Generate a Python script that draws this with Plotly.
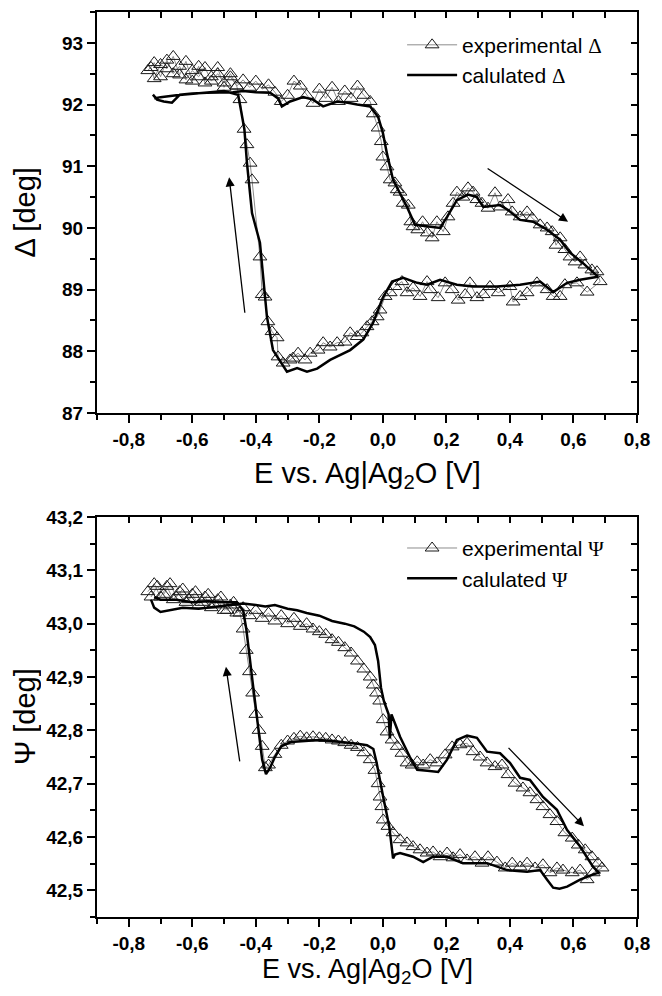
import plotly.graph_objects as go

# ---------------- data ----------------
# Delta, experimental (loop order)
exp_delta_x = [
    -0.74, -0.72, -0.70, -0.68, -0.66, -0.64, -0.62, -0.60, -0.58, -0.56,
    -0.54, -0.52, -0.50, -0.48, -0.46, -0.44, -0.42, -0.40, -0.38, -0.36,
    -0.34, -0.32, -0.30, -0.28, -0.26, -0.24, -0.22, -0.20, -0.18, -0.16,
    -0.14, -0.12, -0.10, -0.08, -0.06, -0.04, -0.03, -0.015, -0.005,
    0.0, 0.013, 0.023, 0.038, 0.045, 0.054, 0.064, 0.08, 0.088, 0.095,
    0.11, 0.125, 0.14, 0.155, 0.17, 0.19, 0.205, 0.221, 0.233, 0.252,
    0.268, 0.284, 0.296, 0.312, 0.331, 0.353, 0.369, 0.394, 0.407, 0.432,
    0.454, 0.47, 0.495, 0.517, 0.533, 0.545, 0.558, 0.573, 0.589, 0.605,
    0.621, 0.636, 0.658, 0.674, 0.684,
    0.643, 0.611, 0.573, 0.558, 0.536, 0.517, 0.485, 0.454, 0.432, 0.41,
    0.4, 0.363, 0.337, 0.316, 0.296, 0.274, 0.259, 0.237, 0.218, 0.196,
    0.174, 0.149, 0.139, 0.117, 0.095, 0.076, 0.06, 0.038, 0.023, 0.007,
    -0.009, -0.018, -0.034, -0.05, -0.066, -0.081, -0.103, -0.119, -0.144, -0.166,
    -0.188, -0.204, -0.229, -0.245, -0.267, -0.283, -0.292, -0.314, -0.33, -0.333,
    -0.349, -0.362, -0.371, -0.38, -0.387, -0.412, -0.418, -0.428, -0.437, -0.45,
    -0.46,
    -0.48, -0.50, -0.52, -0.54, -0.56, -0.58, -0.60, -0.62, -0.64, -0.66,
    -0.68, -0.70, -0.72, -0.73,
]
exp_delta_y = [
    92.55, 92.68, 92.45, 92.72, 92.5, 92.62, 92.4, 92.55, 92.45, 92.6,
    92.38, 92.5, 92.35, 92.45, 92.3, 92.4, 92.28, 92.38, 92.25, 92.32,
    92.2, 92.05, 92.15, 92.38, 92.3, 92.15, 92.02, 92.25, 92.1, 92.28,
    92.05, 92.22, 92.1, 92.3, 92.15, 92.05, 91.85, 91.62, 91.4,
    91.15, 90.99, 90.78, 90.73, 90.62, 90.58, 90.4, 90.37, 90.1, 90.02,
    89.97, 90.1, 89.92, 89.84, 90.1, 89.94, 90.18, 90.4, 90.58, 90.5,
    90.65, 90.58, 90.46, 90.4, 90.32, 90.57, 90.34, 90.46, 90.26, 90.18,
    90.26, 90.16, 90.05, 90.0, 89.94, 89.72, 89.84, 89.65, 89.53, 89.45,
    89.53, 89.4, 89.32, 89.29, 89.13,
    88.96, 89.11, 89.08, 88.89, 88.89, 89.0, 89.11, 88.95, 88.89, 88.8,
    89.05, 88.95, 89.05, 88.92, 88.87, 89.11, 88.92, 88.83, 89.0, 89.11,
    88.87, 89.0, 89.13, 88.89, 89.03, 88.95, 89.13, 89.05, 88.95, 88.89,
    88.67, 88.56, 88.48, 88.4, 88.3, 88.24, 88.3, 88.15, 88.14, 88.07,
    88.14, 88.02, 87.97, 87.86, 87.97, 87.89, 87.86, 87.81, 87.91, 88.22,
    88.32, 88.48, 88.88, 88.92, 89.53, 90.78, 91.05, 91.35, 91.6, 92.08,
    92.3,
    92.5, 92.28, 92.6, 92.45, 92.35, 92.62, 92.38, 92.7, 92.48, 92.78,
    92.58, 92.65, 92.42, 92.6,
]

# Delta, calculated (loop order)
calc_delta_x = [
    -0.724, -0.711, -0.69, -0.664, -0.639, -0.6, -0.554, -0.5, -0.472, -0.44,
    -0.4, -0.355, -0.33, -0.318, -0.292, -0.251, -0.22, -0.188, -0.144, -0.11,
    -0.081, -0.04, -0.015, 0.0, 0.013, 0.032, 0.054, 0.076, 0.101, 0.139,
    0.18, 0.202, 0.233, 0.268, 0.296, 0.316, 0.369, 0.394, 0.432, 0.473,
    0.517, 0.558, 0.589, 0.63, 0.677,
    0.621, 0.58, 0.536, 0.495, 0.432, 0.359, 0.284, 0.233, 0.18, 0.139,
    0.108, 0.064, 0.029, 0.0, -0.031, -0.062, -0.103, -0.166, -0.207, -0.239,
    -0.27, -0.302, -0.346, -0.365, -0.387, -0.412, -0.428, -0.436, -0.45, -0.456,
    -0.5, -0.55, -0.6, -0.65, -0.7, -0.72,
]
calc_delta_y = [
    92.16, 92.08, 92.05, 92.03, 92.16, 92.18, 92.19, 92.2, 92.2, 92.22,
    92.2, 92.19, 92.1, 91.97, 92.05, 92.12, 92.08, 91.97, 92.05, 92.03,
    92.0, 91.97, 91.8, 91.54, 91.2, 90.78, 90.57, 90.34, 90.05, 90.02,
    90.0, 90.18, 90.45, 90.54, 90.5, 90.34, 90.37, 90.29, 90.13, 90.1,
    89.97, 89.81, 89.6, 89.43, 89.21,
    89.16, 89.11, 88.96, 89.13, 89.08, 89.05, 89.05, 89.08, 89.16, 89.08,
    89.11, 89.19, 89.13, 88.87, 88.46, 88.19, 88.02, 87.86, 87.72, 87.67,
    87.73, 87.67, 88.02, 88.56, 89.76, 90.24, 91.06, 91.6, 92.0, 92.16,
    92.22, 92.2, 92.17, 92.15, 92.12, 92.1,
]

# Psi, experimental (loop order)
exp_psi_x = [
    -0.74, -0.72, -0.70, -0.68, -0.66, -0.64, -0.62, -0.60, -0.58, -0.56,
    -0.54, -0.52, -0.50, -0.48, -0.46, -0.44, -0.42, -0.40, -0.38, -0.36,
    -0.34, -0.32, -0.30, -0.28, -0.26, -0.24, -0.22, -0.20, -0.18, -0.16,
    -0.14, -0.12, -0.10, -0.08, -0.06, -0.04, -0.03, -0.02, -0.01,
    0.001, 0.013, 0.029, 0.045, 0.06, 0.076, 0.092, 0.108, 0.127, 0.149,
    0.17, 0.196, 0.218, 0.243, 0.265, 0.284, 0.306, 0.328, 0.353, 0.375,
    0.394, 0.416, 0.441, 0.463, 0.485, 0.504, 0.526, 0.548, 0.573, 0.596,
    0.615, 0.637, 0.658, 0.677, 0.69,
    0.662, 0.643, 0.621, 0.596, 0.567, 0.548, 0.526, 0.504, 0.479, 0.454,
    0.432, 0.407, 0.385, 0.359, 0.331, 0.312, 0.29, 0.265, 0.243, 0.221,
    0.202, 0.18, 0.158, 0.139, 0.117, 0.095, 0.076, 0.054, 0.032, 0.016,
    0.001, -0.003, -0.009,
    -0.015, -0.025, -0.04, -0.06, -0.08, -0.10, -0.12, -0.14, -0.16, -0.18,
    -0.20, -0.22, -0.24, -0.26, -0.28, -0.30, -0.32, -0.34, -0.36, -0.37,
    -0.38, -0.39, -0.40, -0.41, -0.42, -0.43, -0.44, -0.45,
    -0.47, -0.49, -0.51, -0.53, -0.55, -0.57, -0.59, -0.61, -0.63, -0.65,
    -0.67, -0.69, -0.71, -0.73,
]
exp_psi_y = [
    43.06, 43.075, 43.05, 43.07, 43.045, 43.06, 43.04, 43.055, 43.035, 43.05,
    43.03, 43.045, 43.025, 43.035, 43.02, 43.03, 43.015, 43.025, 43.01, 43.02,
    43.005, 43.015, 43.0, 43.01, 42.995, 43.0, 42.99, 42.985, 42.98, 42.97,
    42.965, 42.955, 42.945, 42.93, 42.915, 42.9, 42.885, 42.87, 42.855,
    42.82, 42.797, 42.782, 42.77, 42.757, 42.739, 42.735, 42.741, 42.735, 42.745,
    42.739, 42.754, 42.769, 42.773, 42.776, 42.76, 42.75, 42.739, 42.732, 42.735,
    42.717, 42.701, 42.692, 42.683, 42.67, 42.657, 42.642, 42.629, 42.608, 42.598,
    42.585, 42.576, 42.563, 42.551, 42.542,
    42.533, 42.52, 42.538, 42.533, 42.538, 42.542, 42.533, 42.548, 42.542, 42.551,
    42.544, 42.551, 42.542, 42.553, 42.563, 42.551, 42.563, 42.557, 42.567, 42.561,
    42.57, 42.563, 42.572, 42.57, 42.576, 42.582, 42.589, 42.595, 42.608, 42.62,
    42.632, 42.657, 42.675,
    42.7, 42.725, 42.745, 42.758, 42.768, 42.772, 42.777, 42.78, 42.782, 42.785,
    42.786, 42.788, 42.786, 42.789, 42.785, 42.78, 42.772, 42.755, 42.735, 42.73,
    42.77, 42.8, 42.83, 42.87, 42.91, 42.95, 42.99, 43.02,
    43.04, 43.025, 43.05, 43.035, 43.055, 43.04, 43.06, 43.045, 43.065, 43.05,
    43.075, 43.055, 43.07, 43.05,
]

# Psi, calculated (loop order)
calc_psi_x = [
    -0.73, -0.72, -0.70, -0.67, -0.63, -0.58, -0.53, -0.48, -0.44, -0.40,
    -0.37, -0.34, -0.30, -0.27, -0.24, -0.20, -0.16, -0.12, -0.09, -0.06,
    -0.04, -0.025, -0.015, -0.006, 0.003, 0.012, 0.018, 0.022, 0.027, 0.04,
    0.054, 0.085, 0.108, 0.14, 0.174, 0.202, 0.233, 0.265, 0.296, 0.328,
    0.369, 0.4, 0.432, 0.463, 0.504, 0.548, 0.58, 0.621, 0.662, 0.68,
    0.662, 0.621, 0.58, 0.556, 0.536, 0.517, 0.495, 0.454, 0.391, 0.328,
    0.252, 0.202, 0.158, 0.127, 0.095, 0.054, 0.038, 0.032, 0.02, 0.001,
    -0.009, -0.02, -0.03, -0.05, -0.08, -0.12, -0.16, -0.2, -0.25, -0.29,
    -0.32, -0.34, -0.355, -0.368, -0.38, -0.39, -0.40, -0.41, -0.42, -0.43,
    -0.44, -0.46, -0.5, -0.55, -0.6, -0.65, -0.7, -0.72,
]
calc_psi_y = [
    43.045, 43.03, 43.022, 43.025, 43.03, 43.028, 43.032, 43.035, 43.038, 43.035,
    43.032, 43.035, 43.028, 43.025, 43.02, 43.015, 43.005, 43.0, 42.995, 42.985,
    42.975, 42.96, 42.93, 42.88, 42.855, 42.84, 42.83, 42.785, 42.83, 42.81,
    42.788, 42.75, 42.726, 42.724, 42.722, 42.745, 42.782, 42.79, 42.786, 42.76,
    42.757, 42.739, 42.711, 42.707, 42.675, 42.651, 42.613, 42.582, 42.544, 42.533,
    42.53, 42.52, 42.507, 42.503, 42.505, 42.52, 42.538, 42.535, 42.538, 42.551,
    42.551, 42.563, 42.563, 42.553, 42.563, 42.57, 42.567, 42.56, 42.62, 42.675,
    42.707, 42.74, 42.765, 42.772, 42.775, 42.778, 42.78, 42.782, 42.78, 42.778,
    42.77, 42.75, 42.73, 42.718, 42.745, 42.79, 42.84, 42.89, 42.94, 42.99,
    43.025, 43.04, 43.04, 43.042, 43.04, 43.045, 43.045, 43.05,
]

# tick labels
x_tick_vals = [-0.8, -0.6, -0.4, -0.2, 0.0, 0.2, 0.4, 0.6, 0.8]
x_tick_text = ["-0,8", "-0,6", "-0,4", "-0,2", "0,0", "0,2", "0,4", "0,6", "0,8"]
delta_tick_vals = [87, 88, 89, 90, 91, 92, 93]
delta_tick_text = ["87", "88", "89", "90", "91", "92", "93"]
psi_tick_vals = [42.5, 42.6, 42.7, 42.8, 42.9, 43.0, 43.1, 43.2]
psi_tick_text = ["42,5", "42,6", "42,7", "42,8", "42,9", "43,0", "43,1", "43,2"]

# ---------------- styling ----------------
FONT = "Liberation Sans, Arial, sans-serif"
X_RANGE = [-0.9, 0.8]
DELTA_RANGE = [87, 93.5]
PSI_RANGE = [42.45, 43.2]
TOP_DOM = [0.5569, 1.0]
BOT_DOM = [0.0, 0.442]

exp_line = dict(color="#8c8c8c", width=1)
exp_marker = dict(symbol="triangle-up-open", size=12, color="#1a1a1a", line=dict(width=1, color="#1a1a1a"))
calc_line = dict(color="black", width=2.5)

fig = go.Figure()
fig.add_trace(go.Scatter(x=exp_delta_x, y=exp_delta_y, mode="lines+markers",
                         name='experimental <span style="font-family:Liberation Serif">Δ</span>',
                         xaxis="x", yaxis="y", legend="legend", line=exp_line, marker=exp_marker))
fig.add_trace(go.Scatter(x=calc_delta_x, y=calc_delta_y, mode="lines",
                         name='calulated <span style="font-family:Liberation Serif">Δ</span>',
                         xaxis="x", yaxis="y", legend="legend", line=calc_line))
fig.add_trace(go.Scatter(x=exp_psi_x, y=exp_psi_y, mode="lines+markers",
                         name='experimental <span style="font-family:Liberation Serif">Ψ</span>',
                         xaxis="x2", yaxis="y2", legend="legend2", line=exp_line, marker=exp_marker))
fig.add_trace(go.Scatter(x=calc_psi_x, y=calc_psi_y, mode="lines",
                         name='calulated <span style="font-family:Liberation Serif">Ψ</span>',
                         xaxis="x2", yaxis="y2", legend="legend2", line=calc_line))
# empty traces that carry the top/right frame axes (inside ticks)
fig.add_trace(go.Scatter(x=[None], y=[None], xaxis="x3", yaxis="y3", showlegend=False, hoverinfo="skip"))
fig.add_trace(go.Scatter(x=[None], y=[None], xaxis="x4", yaxis="y4", showlegend=False, hoverinfo="skip"))

tickfont = dict(family=FONT, size=19, color="black", weight="bold")
common = dict(showline=True, linewidth=2, linecolor="black", showgrid=False, zeroline=False,
              tickcolor="black", tickwidth=1.5, automargin=False)


def main_x(anchor):
    return dict(domain=[0, 1], range=X_RANGE, anchor=anchor, ticks="outside", ticklen=8,
                tickmode="array", tickvals=x_tick_vals, ticktext=x_tick_text, tickfont=tickfont,
                minor=dict(ticks="outside", ticklen=5, tickwidth=1.5, tickcolor="black",
                           tickmode="linear", tick0=-0.9, dtick=0.1),
                **common)


def main_y(anchor, dom, rng, vals, text, mdt):
    return dict(domain=dom, range=rng, anchor=anchor, ticks="outside", ticklen=8,
                tickmode="array", tickvals=vals, ticktext=text, tickfont=tickfont,
                minor=dict(ticks="outside", ticklen=5, tickwidth=1.5, tickcolor="black",
                           tickmode="linear", tick0=rng[0], dtick=mdt),
                **common)


def frame_x(over, anchor):
    return dict(overlaying=over, side="top", anchor=anchor, range=X_RANGE, ticks="inside",
                ticklen=6, tickmode="linear", tick0=-0.9, dtick=0.1, showticklabels=False, **common)


def frame_y(over, anchor, rng, t0, dt):
    return dict(overlaying=over, side="right", anchor=anchor, range=rng, ticks="inside",
                ticklen=6, tickmode="linear", tick0=t0, dtick=dt, showticklabels=False, **common)


legend_common = dict(xanchor="left", yanchor="top", bgcolor="rgba(0,0,0,0)",
                     font=dict(family=FONT, size=21, color="black"), itemwidth=50)

title_font = dict(family=FONT, size=29, color="black")
title_font_low = dict(family=FONT, size=27, color="black")
arrow = dict(showarrow=True, arrowhead=2, arrowsize=1.4, arrowwidth=1.3, arrowcolor="black", text="")

# the page body has an 8px margin, so the figure is 16px smaller than the window
fig.update_layout(
    width=646, height=980,
    margin=dict(l=89, r=17, t=4, b=71),
    paper_bgcolor="white", plot_bgcolor="white",
    xaxis=main_x("y"),
    yaxis=main_y("x", TOP_DOM, DELTA_RANGE, delta_tick_vals, delta_tick_text, 0.5),
    xaxis2=main_x("y2"),
    yaxis2=main_y("x2", BOT_DOM, PSI_RANGE, psi_tick_vals, psi_tick_text, 0.05),
    xaxis3=frame_x("x", "y3"),
    yaxis3=frame_y("y", "x3", DELTA_RANGE, 87, 0.5),
    xaxis4=frame_x("x2", "y4"),
    yaxis4=frame_y("y2", "x4", PSI_RANGE, 42.45, 0.05),
    legend=dict(x=0.565, y=0.986, **legend_common),
    legend2=dict(x=0.565, y=0.430, **legend_common),
    annotations=[
        dict(text="Δ [deg]", xref="paper", yref="y domain", x=0, y=0.5, xshift=-72, height=32,
             textangle=-90, showarrow=False, xanchor="center", yanchor="middle", font=title_font),
        dict(text="Ψ [deg]", xref="paper", yref="y2 domain", x=0, y=0.5, xshift=-72, height=32,
             textangle=-90, showarrow=False, xanchor="center", yanchor="middle", font=title_font),
        dict(text="E vs. Ag|Ag<sub>2</sub>O [V]", xref="x domain", yref="y domain", x=0.5, y=0,
             yshift=-62, height=32, showarrow=False, xanchor="center", yanchor="middle", font=title_font),
        dict(text="E vs. Ag|Ag<sub>2</sub>O [V]", xref="x2 domain", yref="y2 domain", x=0.5, y=0,
             yshift=-54, height=28, showarrow=False, xanchor="center", yanchor="middle", font=title_font_low),
        dict(x=-0.484, y=90.82, ax=-0.434, ay=88.6, xref="x", yref="y", axref="x", ayref="y", **arrow),
        dict(x=0.583, y=90.1, ax=0.325, ay=90.98, xref="x", yref="y", axref="x", ayref="y", **arrow),
        dict(x=-0.494, y=42.919, ax=-0.45, ay=42.739, xref="x2", yref="y2", axref="x2", ayref="y2", **arrow),
        dict(x=0.633, y=42.62, ax=0.391, ay=42.77, xref="x2", yref="y2", axref="x2", ayref="y2", **arrow),
    ],
    showlegend=True,
)

fig.write_html("out.html")
